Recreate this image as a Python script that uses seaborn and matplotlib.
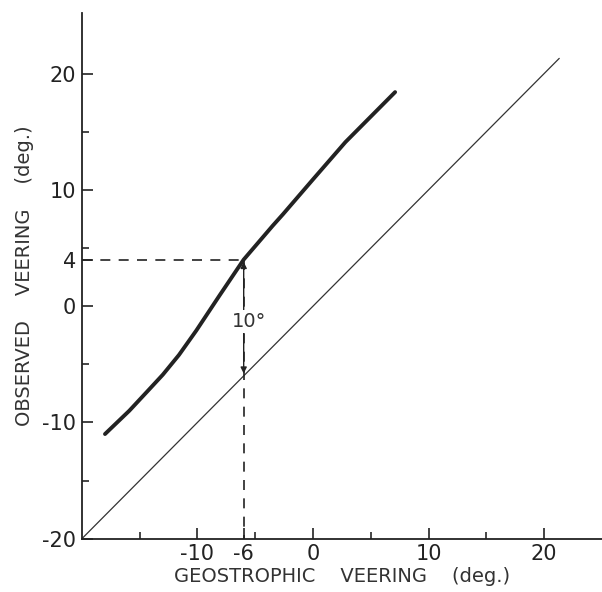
import numpy as np
import pandas as pd
import matplotlib.pyplot as plt
import seaborn as sns

# thick curve: observed vs geostrophic veering
geo_x = [-18.0, -15.9, -14.4, -13.0, -11.6, -10.1, -8.1, -6.0, -3.5, -2.6, 0.0, 2.8, 5.6, 7.1]
obs_y = [-11.0, -9.0, -7.4, -5.9, -4.2, -2.1, 0.9, 4.0, 6.9, 7.9, 10.9, 14.1, 16.9, 18.4]

# 1:1 reference line
ref_x = [-20, 21.3]
ref_y = [-20, 21.3]

x_ticks = [-10, -6, 0, 10, 20]
x_minor = [-15, -5, 5, 15]
y_ticks = [-20, -10, 0, 4, 10, 20]
y_minor = [-15, -5, 5, 15]

sns.set_style("ticks")
plt.rcParams['font.family'] = ['DejaVu Sans']

fig = plt.figure(figsize=(6.02, 5.92), dpi=100)
ax = fig.add_axes([0.136, 0.09, 0.864, 0.888])

curve = pd.DataFrame({'geo': geo_x, 'obs': obs_y})
ref = pd.DataFrame({'geo': ref_x, 'obs': ref_y})
sns.lineplot(data=ref, x='geo', y='obs', color='#333333', linewidth=0.9, ax=ax)
sns.lineplot(data=curve, x='geo', y='obs', color='#222222', linewidth=2.8,
             solid_capstyle='round', solid_joinstyle='round', ax=ax)

# dashed guide lines to the (-6, 4) point
ax.plot([-20, -6], [4, 4], color='#222222', linestyle=(0, (6, 5)), linewidth=1.2)
ax.plot([-6, -6], [4, -20], color='#222222', linestyle=(0, (6, 5)), linewidth=1.2)

# 10 degree offset arrow
ax.annotate('', xy=(-6, 3.8), xytext=(-6, -5.8),
            arrowprops=dict(arrowstyle='<|-|>', color='#222222', lw=1.0,
                            mutation_scale=9, shrinkA=0, shrinkB=0))
ax.text(-5.5, -1.3, '10°', ha='center', va='center', fontsize=14, color='#333333',
        bbox=dict(facecolor='white', edgecolor='none', pad=1.5))

ax.set_xlim(-20, 25)
ax.set_ylim(-20, 25.2)
ax.set_xticks(x_ticks)
ax.set_xticks(x_minor, minor=True)
ax.set_yticks(y_ticks)
ax.set_yticks(y_minor, minor=True)
ax.set_xticklabels([str(v) for v in x_ticks])
ax.set_yticklabels([str(v) for v in y_ticks])
ax.tick_params(which='major', direction='in', length=8, width=1.2, labelsize=15,
               colors='#222222', pad=4)
ax.tick_params(which='minor', direction='in', length=5, width=1.2)

for s in ['top', 'right']:
    ax.spines[s].set_visible(False)
for s in ['left', 'bottom']:
    ax.spines[s].set_linewidth(1.3)
    ax.spines[s].set_color('#222222')

ax.set_xlabel('GEOSTROPHIC    VEERING    (deg.)', fontsize=14, color='#333333', labelpad=2)
ax.set_ylabel('OBSERVED    VEERING    (deg.)', fontsize=14, color='#333333', labelpad=6)

fig.savefig('out.png', dpi=100)
